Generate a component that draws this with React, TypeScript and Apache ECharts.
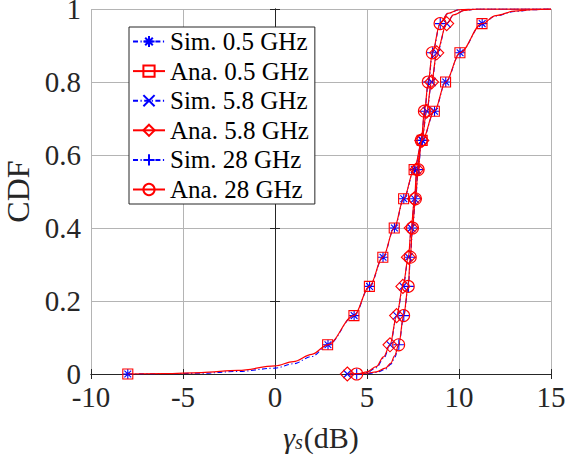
import React, { useEffect, useRef } from "react";
import * as echarts from "echarts";

// marker CDF levels
const markerLevels = [0, 0.08, 0.16, 0.24, 0.32, 0.4, 0.48, 0.56, 0.64, 0.72, 0.8, 0.88, 0.96];

// 0.5 GHz
const xAna05 = [-8, -6, -4, -2, 0, 1, 2, 2.86, 4.29, 5.13, 5.86, 6.48, 6.99, 7.56, 8.0, 8.66, 9.27, 10.05, 11.25, 12, 13, 14, 15];
const yAna05 = [0, 0.001, 0.004, 0.01, 0.022, 0.034, 0.054, 0.08, 0.16, 0.24, 0.32, 0.4, 0.48, 0.56, 0.64, 0.72, 0.8, 0.88, 0.96, 0.982, 0.994, 0.998, 1];
const xSim05 = [-8, -6, -4, -2, 0, 1, 2, 2.88, 4.3, 5.14, 5.87, 6.49, 7.0, 7.57, 8.01, 8.67, 9.28, 10.06, 11.26, 12, 13, 14, 15];
const ySim05 = [0, 0.0005, 0.002, 0.007, 0.016, 0.028, 0.048, 0.08, 0.16, 0.24, 0.32, 0.4, 0.48, 0.56, 0.64, 0.72, 0.8, 0.88, 0.96, 0.981, 0.993, 0.998, 1];

// 5.8 GHz
const xAna58 = [3.93, 4.5, 5, 5.5, 5.9, 6.25, 6.61, 6.95, 7.25, 7.4, 7.58, 7.7, 7.98, 8.24, 8.51, 8.79, 9.33, 9.7, 10.3, 11, 15];
const yAna58 = [0, 0.001, 0.006, 0.02, 0.047, 0.08, 0.16, 0.24, 0.32, 0.4, 0.48, 0.56, 0.64, 0.72, 0.8, 0.88, 0.96, 0.984, 0.996, 1, 1];
const xSim58 = [3.93, 4.5, 5, 5.5, 5.92, 6.26, 6.62, 6.96, 7.26, 7.41, 7.59, 7.71, 7.99, 8.25, 8.52, 8.8, 9.34, 9.7, 10.3, 11, 15];
const ySim58 = [0, 0.0005, 0.004, 0.017, 0.044, 0.08, 0.16, 0.24, 0.32, 0.4, 0.48, 0.56, 0.64, 0.72, 0.8, 0.88, 0.96, 0.984, 0.996, 1, 1];

// 28 GHz
const xAna28 = [4.44, 5, 5.5, 6, 6.3, 6.5, 6.72, 6.99, 7.24, 7.35, 7.47, 7.63, 7.78, 7.95, 8.12, 8.33, 8.55, 8.97, 9.4, 10.0, 11, 15];
const yAna28 = [0, 0.002, 0.006, 0.016, 0.03, 0.05, 0.08, 0.16, 0.24, 0.32, 0.4, 0.48, 0.56, 0.64, 0.72, 0.8, 0.88, 0.96, 0.988, 0.998, 1, 1];
const xSim28 = [4.44, 5, 5.5, 6, 6.3, 6.52, 6.73, 7.0, 7.25, 7.36, 7.48, 7.64, 7.79, 7.96, 8.13, 8.34, 8.56, 8.98, 9.4, 10.0, 11, 15];
const ySim28 = [0, 0.001, 0.004, 0.013, 0.027, 0.047, 0.08, 0.16, 0.24, 0.32, 0.4, 0.48, 0.56, 0.64, 0.72, 0.8, 0.88, 0.96, 0.988, 0.998, 1, 1];

const xTicks = [-10, -5, 0, 5, 10, 15];
const yTicks = [0, 0.2, 0.4, 0.6, 0.8, 1];

const names = ["Sim. 0.5 GHz", "Ana. 0.5 GHz", "Sim. 5.8 GHz", "Ana. 5.8 GHz", "Sim. 28 GHz", "Ana. 28 GHz"];

const BLUE = "#0000ff";
const RED = "#ff0000";
const FONT = "Liberation Serif, Times New Roman, serif";

const STAR = "path://M5,0L5,10M0,5L10,5M1.6,1.6L8.4,8.4M8.4,1.6L1.6,8.4";
const CROSS = "path://M0,0L10,10M10,0L0,10";
const PLUS = "path://M5,0L5,10M0,5L10,5";

function isMarker(y: number) {
  return markerLevels.some((m) => Math.abs(m - y) < 1e-9);
}

function buildData(xs: number[], ys: number[]) {
  return xs.map((x, i) =>
    isMarker(ys[i]) && !(ys[i] === 0 && i > 0)
      ? { value: [x, ys[i]] }
      : { value: [x, ys[i]], symbol: "none" }
  );
}

function makeSeries(
  name: string,
  xs: number[],
  ys: number[],
  sim: boolean,
  symbol: string,
  size: number
) {
  const color = sim ? BLUE : RED;
  return {
    name,
    type: "line",
    xAxisIndex: 0,
    yAxisIndex: 0,
    data: buildData(xs, ys),
    smooth: 0.35,
    smoothMonotone: "x",
    symbol,
    symbolSize: size,
    showAllSymbol: true,
    z: sim ? 2 : 3,
    lineStyle: {
      color,
      width: sim ? 1.1 : 1.2,
      type: sim ? [5, 2.5, 1.2, 2.5] : "solid",
    },
    itemStyle: {
      color: sim ? BLUE : "rgba(0,0,0,0)",
      borderColor: color,
      borderWidth: 1.1,
    },
    emphasis: { disabled: true },
  };
}

export default function App() {
  const ref = useRef<HTMLDivElement>(null);
  useEffect(() => {
    document.body.style.margin = "0";
    if (!ref.current) return;
    const chart = echarts.init(ref.current, undefined, { renderer: "svg" });
    const axisColor = "#262626";
    chart.setOption({
      animation: false,
      backgroundColor: "#ffffff",
      textStyle: { fontFamily: FONT },
      grid: { left: 91, right: 15, top: 9, bottom: 85, containLabel: false, outerBoundsMode: "none" },
      legend: {
        orient: "vertical",
        left: 129,
        top: 27,
        data: names,
        backgroundColor: "#ffffff",
        borderColor: axisColor,
        borderWidth: 1,
        padding: [2, 6, 2, 3],
        itemGap: 4.6,
        itemWidth: 32,
        itemHeight: 14,
        textStyle: { fontFamily: FONT, fontSize: 25, color: "#000000", lineHeight: 25 },
      },
      xAxis: [
        {
          type: "value",
          min: -10,
          max: 15,
          interval: 5,
          name: "{g|γ}{s|s}{n|(dB)}",
          nameLocation: "middle",
          nameGap: 48,
          nameTextStyle: {
            fontFamily: FONT,
            fontSize: 29,
            color: axisColor,
            rich: {
              g: { fontFamily: FONT, fontSize: 30, fontStyle: "italic", color: axisColor },
              s: { fontFamily: FONT, fontSize: 20, fontStyle: "italic", color: axisColor, verticalAlign: "bottom", padding: [10, 1, 0, 0] },
              n: { fontFamily: FONT, fontSize: 30, color: axisColor },
            },
          },
          axisLine: { show: true, lineStyle: { color: axisColor, width: 1 } },
          axisTick: { show: true, inside: true, length: 5, lineStyle: { color: axisColor } },
          axisLabel: {
            fontFamily: FONT,
            fontSize: 29,
            color: axisColor,
            margin: 8,
            formatter: (v: number) => (xTicks.includes(v) ? String(v) : ""),
          },
          splitLine: { show: true, lineStyle: { color: "#b4b4b4", width: 1 } },
        },
        {
          type: "value",
          position: "top",
          min: -10,
          max: 15,
          interval: 5,
          axisLine: { show: true, lineStyle: { color: axisColor, width: 1 } },
          axisTick: { show: true, inside: true, length: 5, lineStyle: { color: axisColor } },
          axisLabel: { show: false },
          splitLine: { show: false },
        },
      ],
      yAxis: [
        {
          type: "value",
          min: 0,
          max: 1,
          interval: 0.2,
          name: "CDF",
          nameLocation: "middle",
          nameRotate: 90,
          nameGap: 56,
          nameTextStyle: { fontFamily: FONT, fontSize: 32, color: axisColor },
          axisLine: { show: true, lineStyle: { color: axisColor, width: 1 } },
          axisTick: { show: true, inside: true, length: 5, lineStyle: { color: axisColor } },
          axisLabel: {
            fontFamily: FONT,
            fontSize: 29,
            color: axisColor,
            margin: 10,
            formatter: (v: number) => {
              const t = yTicks.find((k) => Math.abs(k - v) < 1e-9);
              return t === undefined ? "" : String(t);
            },
          },
          splitLine: { show: true, lineStyle: { color: "#b4b4b4", width: 1 } },
        },
        {
          type: "value",
          position: "right",
          min: 0,
          max: 1,
          interval: 0.2,
          axisLine: { show: true, lineStyle: { color: axisColor, width: 1 } },
          axisTick: { show: true, inside: true, length: 5, lineStyle: { color: axisColor } },
          axisLabel: { show: false },
          splitLine: { show: false },
        },
      ],
      series: [
        makeSeries(names[0], xSim05, ySim05, true, STAR, 10),
        makeSeries(names[1], xAna05, yAna05, false, "rect", 10),
        makeSeries(names[2], xSim58, ySim58, true, CROSS, 8),
        makeSeries(names[3], xAna58, yAna58, false, "diamond", 14),
        makeSeries(names[4], xSim28, ySim28, true, PLUS, 11),
        makeSeries(names[5], xAna28, yAna28, false, "circle", 12),
      ],
    });
    return () => chart.dispose();
  }, []);
  return <div ref={ref} style={{ width: 566, height: 459 }} />;
}
